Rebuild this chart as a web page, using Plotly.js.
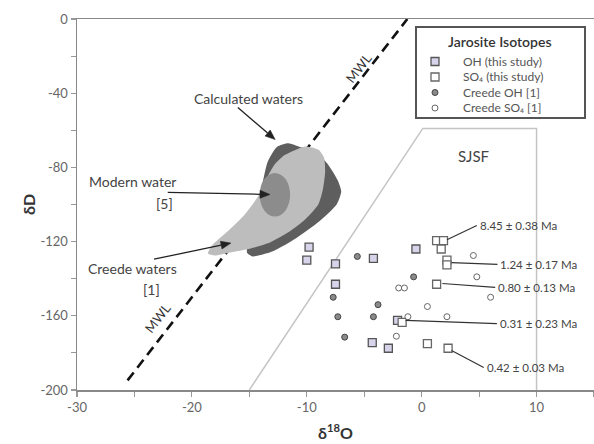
<!DOCTYPE html>
<html>
<head>
<meta charset="utf-8">
<script src="https://cdn.plot.ly/plotly-3.0.1.min.js"></script>
<style>html,body{margin:0;padding:0;background:#fff;}#chart{width:594px;height:444px;}</style>
</head>
<body>
<div id="chart"></div>
<script>
// ---- Data ----
const xTickVals = [-30, -20, -10, 0, 10];
const xTickLabels = ['-30', '-20', '-10', '0', '10'];
const yTickVals = [-200, -160, -120, -80, -40, 0];
const yTickLabels = ['-200', '-160', '-120', '-80', '-40', '0'];

// Jarosite OH (this study)
const ohX = [-9.8, -10.0, -7.5, -7.5, -4.2, -0.5, -2.1, -4.3, -2.9];
const ohY = [-123, -130, -132, -143, -129, -124, -162.5, -174.5, -177.5];
// Jarosite SO4 (this study)
const so4X = [1.3, 1.9, 1.7, 2.2, 2.2, 1.3, -1.7, 0.5, 2.3];
const so4Y = [-119.5, -119.5, -124, -130, -132.5, -143, -163.5, -175, -177.5];
// Creede OH [1]
const crOhX = [-5.6, -0.7, -7.7, -3.8, -7.3, -4.2, -6.7];
const crOhY = [-128, -139, -150, -154, -160.5, -160.5, -171.5];
// Creede SO4 [1]
const crSo4X = [4.5, 4.8, -2.0, -1.5, 6.0, 0.5, -1.2, 2.2, -2.2];
const crSo4Y = [-127.5, -139, -145, -145, -150, -155, -160.5, -160.5, -171];

// Legend entries
const legendTitle = 'Jarosite Isotopes';
const legendNames = ['OH (this study)', 'SO₄ (this study)', 'Creede OH [1]', 'Creede SO₄ [1]'];

// Meteoric water line dD = 8*d18O + 10, drawn between these d18O values
const mwlX = [-25.6, -1.25];
// SJSF field outline
const sjsfX = [-15, 0.1, 10, 10];
const sjsfY = [-200, -59, -59, -200];
// Calculated waters field
const calcX = [-13.9, -13.4, -12.6, -11.6, -10.6, -9.3, -8.2, -7.3, -7.0, -7.4, -8.9, -10.9, -12.9, -14.7, -15.2, -14.9, -14.3];
const calcY = [-90, -77, -69, -67, -69, -71, -78, -87, -93, -100, -109, -118, -125, -128, -126, -114, -100];
// Creede waters field
const creedeX = [-11.3, -10.15, -9.0, -8.5, -8.4, -8.6, -9.0, -10.15, -11.5, -13.2, -14.9, -16.7, -18.0, -18.6, -18.25, -16.9, -15.4, -14.25, -13.55, -12.8, -12.0];
const creedeY = [-71.4, -68.7, -70.4, -74.7, -82.2, -91.9, -100, -108.1, -114.6, -120.5, -123.7, -125.9, -127.5, -126.4, -122.1, -114.6, -105.4, -95.7, -86.5, -78.4, -73.6];
// Modern water field (ellipse bounds)
const modernX = [-14.1, -11.45];
const modernY = [-83, -106.5];

// Age labels: text, leader line start (x,y) and end (x,y)
const ageText = ['8.45 ± 0.38 Ma', '1.24 ± 0.17 Ma', '0.80 ± 0.13 Ma', '0.31 ± 0.23 Ma', '0.42 ± 0.03 Ma'];
const ageFromX = [2.2, 2.6, 1.8, -1.4, 2.6];
const ageFromY = [-119, -131.3, -142.6, -162.5, -178.7];
const ageToX = [4.8, 6.6, 6.4, 6.55, 5.4];
const ageToY = [-111.3, -132.3, -144.7, -164.2, -187.9];

// Pointer arrows to the water fields: tail (x,y) -> head (x,y)
const arrowTailX = [-16.0, -22.1, -23.3];
const arrowTailY = [-47.7, -93.5, -129.5];
const arrowHeadX = [-12.75, -13.2, -16.6];
const arrowHeadY = [-65, -94.6, -120.8];

// ---- Geometry helpers ----
const X0 = -30, X1 = 15, Y0 = -200, Y1 = 0;
const PL = 77, PR = 594, PT = 19, PB = 390;           // plot area in page pixels
const SX = (PR - PL) / (X1 - X0), SY = (PB - PT) / (Y1 - Y0);
const px2paperX = p => (p - PL) / (PR - PL);
const py2paperY = p => (PB - p) / (PB - PT);

function arrowShapes(tx, ty, hx, hy) {
  const dx = (hx - tx) * SX, dy = -(hy - ty) * SY;
  const L = Math.hypot(dx, dy), ux = dx / L, uy = dy / L;
  const len = 10, w = 4;
  const bx = -ux * len, by = -uy * len;
  const toD = (ox, oy) => [hx + ox / SX, hy - oy / SY];
  const b = toD(bx, by);
  const p1 = toD(bx - uy * w, by + ux * w);
  const p2 = toD(bx + uy * w, by - ux * w);
  return [
    {type: 'line', xref: 'x', yref: 'y', x0: tx, y0: ty, x1: b[0], y1: b[1], line: {color: '#222', width: 1.3}},
    {type: 'path', xref: 'x', yref: 'y', path: `M${hx},${hy} L${p1[0]},${p1[1]} L${p2[0]},${p2[1]} Z`,
     fillcolor: '#222', line: {color: '#222', width: 0.5}}
  ];
}

// ---- Traces ----
const mwlY = mwlX.map(v => 8 * v + 10);
const FONT = 'Lato, "Open Sans", sans-serif';

const ohMarker = {symbol: 'square', size: 8, color: '#d6d3ea', line: {color: '#555', width: 1.3}};
const so4Marker = {symbol: 'square', size: 8, color: '#ffffff', line: {color: '#666', width: 1.3}};
const crOhMarker = {symbol: 'circle', size: 6, color: '#8a8a8a', line: {color: '#444', width: 1}};
const crSo4Marker = {symbol: 'circle', size: 6, color: '#ffffff', line: {color: '#666', width: 1}};

const traces = [
  {x: mwlX, y: mwlY, mode: 'lines', name: 'MWL', line: {color: '#111', width: 2.6, dash: '10px,6px'}, showlegend: false, hoverinfo: 'skip'},
  {x: sjsfX, y: sjsfY, mode: 'lines', name: 'SJSF', line: {color: '#c4c4c4', width: 1.5}, showlegend: false, hoverinfo: 'skip'},
  {x: calcX, y: calcY, mode: 'lines', name: 'Calculated waters', fill: 'toself', fillcolor: '#5e5e5e', line: {width: 0, shape: 'spline', smoothing: 0.6}, showlegend: false, hoverinfo: 'skip'},
  {x: creedeX, y: creedeY, mode: 'lines', name: 'Creede waters', fill: 'toself', fillcolor: '#bdbdbd', line: {width: 0, shape: 'spline', smoothing: 0.6}, showlegend: false, hoverinfo: 'skip'},
  {x: ohX, y: ohY, mode: 'markers', name: legendNames[0], marker: ohMarker, showlegend: false},
  {x: so4X, y: so4Y, mode: 'markers', name: legendNames[1], marker: so4Marker, showlegend: false},
  {x: crOhX, y: crOhY, mode: 'markers', name: legendNames[2], marker: crOhMarker, showlegend: false},
  {x: crSo4X, y: crSo4Y, mode: 'markers', name: legendNames[3], marker: crSo4Marker, showlegend: false}
];

const shapes = [
  {type: 'circle', xref: 'x', yref: 'y', x0: modernX[0], x1: modernX[1], y0: modernY[0], y1: modernY[1],
   fillcolor: '#8c8c8c', line: {width: 0}, layer: 'above'}
];
for (let i = 0; i < ageText.length; i++) {
  shapes.push({type: 'line', xref: 'x', yref: 'y', x0: ageFromX[i], y0: ageFromY[i], x1: ageToX[i], y1: ageToY[i],
    line: {color: '#333', width: 1.2}});
}
for (let i = 0; i < arrowTailX.length; i++) {
  shapes.push(...arrowShapes(arrowTailX[i], arrowTailY[i], arrowHeadX[i], arrowHeadY[i]));
}

// Custom legend box
shapes.push({type: 'rect', xref: 'paper', yref: 'paper',
  x0: px2paperX(416), x1: px2paperX(585), y0: py2paperY(118), y1: py2paperY(27),
  fillcolor: '#fff', line: {color: '#555', width: 2}, layer: 'above'});
const legRowY = [61.5, 77, 92.5, 108];
const legSymX = 435, legTextX = 461;
const legMarkers = [ohMarker, so4Marker, crOhMarker, crSo4Marker];
legMarkers.forEach((m, i) => {
  const h = m.size / 2;
  shapes.push({type: m.symbol === 'square' ? 'rect' : 'circle', xref: 'paper', yref: 'paper',
    xsizemode: 'pixel', ysizemode: 'pixel',
    xanchor: px2paperX(legSymX), yanchor: py2paperY(legRowY[i]),
    x0: -h, x1: h, y0: -h, y1: h,
    fillcolor: m.color, line: {color: m.line.color, width: m.line.width}, layer: 'above'});
});

const txt = {size: 14, color: '#444'};
const annotations = [
  {x: -15.1, y: -42.9, text: 'Calculated waters', showarrow: false, font: txt},
  {x: -29.1, y: -87.6, text: 'Modern water', xanchor: 'left', showarrow: false, font: txt},
  {x: -22.4, y: -99.5, text: '[5]', showarrow: false, font: txt},
  {x: -29.2, y: -134.5, text: 'Creede waters', xanchor: 'left', showarrow: false, font: txt},
  {x: -23.5, y: -146, text: '[1]', showarrow: false, font: txt},
  {x: 4.5, y: -74, text: 'SJSF', showarrow: false, font: {size: 15, color: '#444'}},
  {x: -5.5, y: -26.2, text: 'MWL', textangle: -52, showarrow: false, font: {size: 13, color: '#333'}},
  {x: -23.0, y: -161, text: 'MWL', textangle: -52, showarrow: false, font: {size: 13, color: '#333'}},
  {xref: 'paper', yref: 'paper', x: px2paperX(500), y: py2paperY(41), xanchor: 'center', yanchor: 'middle',
   text: legendTitle, showarrow: false, font: {size: 14, color: '#333', family: 'Lato, sans-serif', weight: 600}}
];
legendNames.forEach((n, i) => {
  annotations.push({xref: 'paper', yref: 'paper', x: px2paperX(legTextX), y: py2paperY(legRowY[i]),
    xanchor: 'left', yanchor: 'middle', text: n, showarrow: false, font: {size: 12, color: '#555'}});
});
for (let i = 0; i < ageText.length; i++) {
  annotations.push({x: ageToX[i], y: ageToY[i], text: ageText[i], xanchor: 'left', yanchor: 'middle', xshift: 1,
    showarrow: false, font: {size: 11.5, color: '#444'}});
}

const layout = {
  width: 594, height: 444,
  margin: {l: 77, r: 0, t: 19, b: 54, pad: 0},
  paper_bgcolor: '#fff', plot_bgcolor: '#fff',
  font: {family: FONT, color: '#555', size: 13},
  showlegend: false,
  xaxis: {
    range: [X0, X1], tickvals: xTickVals, ticktext: xTickLabels,
    ticks: 'outside', ticklen: 5, tickcolor: '#999', tickwidth: 1.2,
    minor: {dtick: 5, tick0: -30, ticks: 'outside', ticklen: 5, tickcolor: '#999', tickwidth: 1.2, showgrid: false},
    showline: true, linecolor: '#888', linewidth: 1.5, mirror: true,
    showgrid: false, zeroline: false,
    tickfont: {size: 13, color: '#666'},
    title: {text: '<b>δ<sup>18</sup>O</b>', font: {size: 16, color: '#333'}, standoff: 13}
  },
  yaxis: {
    range: [Y0, Y1], tickvals: yTickVals, ticktext: yTickLabels,
    ticks: 'outside', ticklen: 5, tickcolor: '#999', tickwidth: 1.2,
    minor: {dtick: 20, tick0: 0, ticks: 'outside', ticklen: 5, tickcolor: '#999', tickwidth: 1.2, showgrid: false},
    showline: true, linecolor: '#888', linewidth: 1.5,
    showgrid: false, zeroline: false,
    tickfont: {size: 13, color: '#666'},
    title: {text: '<b>δD</b>', font: {size: 16, color: '#333'}, standoff: 1}
  },
  shapes: shapes,
  annotations: annotations
};

Plotly.newPlot('chart', traces, layout, {displayModeBar: false, staticPlot: true});
</script>
</body>
</html>
